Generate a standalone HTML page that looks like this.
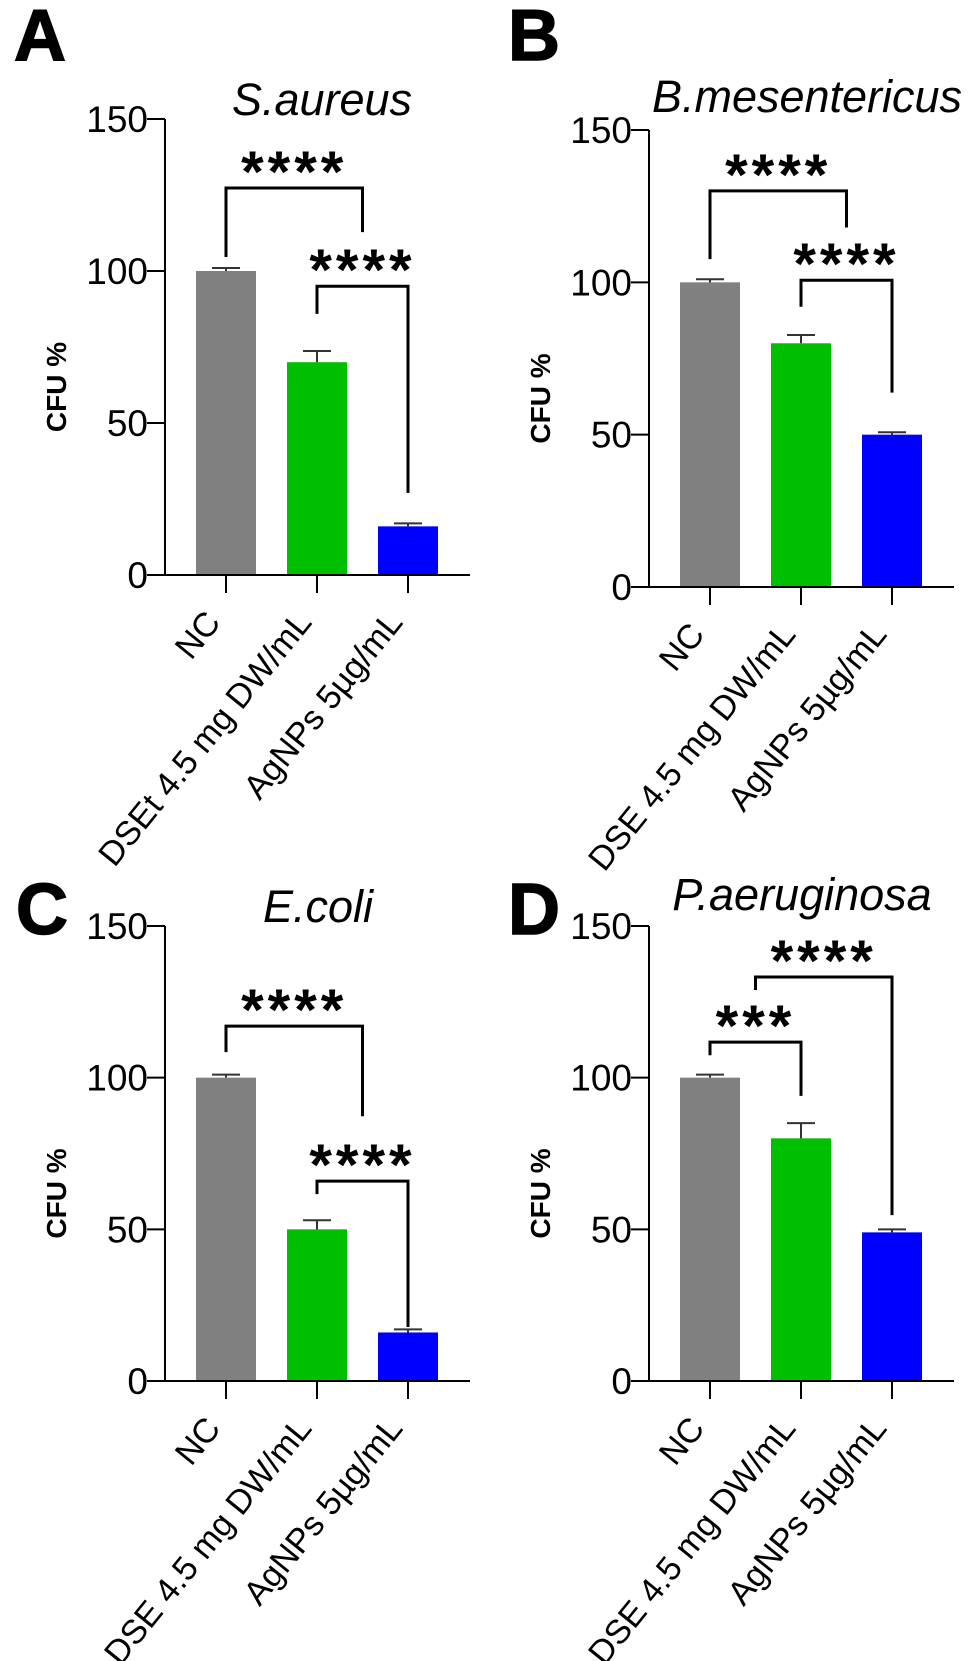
<!DOCTYPE html>
<html><head><meta charset="utf-8">
<style>
html,body{margin:0;padding:0;background:#fff;}
svg{display:block;font-family:"Liberation Sans",Arial,sans-serif;}
</style></head>
<body>
<svg id="fig" width="970" height="1661" viewBox="0 0 970 1661" xmlns="http://www.w3.org/2000/svg"></svg>
<script>
const categoriesA = ["NC", "DSEt 4.5 mg DW/mL", "AgNPs 5µg/mL"];
const categoriesB = ["NC", "DSE 4.5 mg DW/mL", "AgNPs 5µg/mL"];
const categoriesC = ["NC", "DSE 4.5 mg DW/mL", "AgNPs 5µg/mL"];
const categoriesD = ["NC", "DSE 4.5 mg DW/mL", "AgNPs 5µg/mL"];
const valuesA = [100, 70, 16];
const errorsA = [1, 3.7, 1];
const valuesB = [100, 80, 50];
const errorsB = [1, 2.7, 0.8];
const valuesC = [100, 50, 16];
const errorsC = [1, 3, 1];
const valuesD = [100, 80, 49];
const errorsD = [1, 5, 1];
const yTicks = [0, 50, 100, 150];
const yTickLabels = ["0", "50", "100", "150"];
// brackets: [fromCategory, toCategory, topValue, leftLegBottom, rightLegBottom, label]
const bracketsA = [[0, 1.5, 127.3, 104.6, 112.8, "****"], [1, 2, 95, 85.9, 27, "****"]];
const bracketsB = [[0, 1.5, 130, 107.6, 118, "****"], [1, 2, 100.7, 92, 63.8, "****"]];
const bracketsC = [[0, 1.5, 117, 108.4, 87.3, "****"], [1, 2, 65.9, 61.6, 17.8, "****"]];
const bracketsD = [[0, 1, 111.7, 107.4, 94, "***"], [0.5, 2, 133.2, 128.9, 54.7, "****"]];

const colors = ["#808080", "#00bf00", "#0000ff"];
const NS = "http://www.w3.org/2000/svg";
const svg = document.getElementById("fig");

function mk(tag, attrs, parent) {
  const e = document.createElementNS(NS, tag);
  for (const k in attrs) e.setAttribute(k, attrs[k]);
  (parent || svg).appendChild(e);
  return e;
}

const panels = [
  {id: "a", letter: "A", lx: 14, ly: 60, title: "S.aureus", tx: 322, ty: 115, ox: 165, base: 575, top: 119, cats: categoriesA, vals: valuesA, errs: errorsA, br: bracketsA},
  {id: "b", letter: "B", lx: 508, ly: 60, title: "B.mesentericus", tx: 807, ty: 112, ox: 649, base: 587, top: 130, cats: categoriesB, vals: valuesB, errs: errorsB, br: bracketsB},
  {id: "c", letter: "C", lx: 16, ly: 934, title: "E.coli", tx: 318, ty: 922, ox: 165, base: 1381, top: 926, cats: categoriesC, vals: valuesC, errs: errorsC, br: bracketsC},
  {id: "d", letter: "D", lx: 508, ly: 934, title: "P.aeruginosa", tx: 802, ty: 910, ox: 649, base: 1381, top: 926, cats: categoriesD, vals: valuesD, errs: errorsD, br: bracketsD}
];

panels.forEach(p => {
  const g = mk("g", {});
  
  
  const y = v => p.base - (p.base - p.top) * v / 150;
  const x = i => p.ox + 61 + 91 * i;

  const L = mk("text", {x: p.lx, y: p.ly, "font-size": 72, "font-weight": "bold", stroke: "#000", "stroke-width": 1.5}, g);
  L.textContent = p.letter;
  
  

  const T = mk("text", {x: p.tx, y: p.ty, "font-size": 45, "font-style": "italic", "text-anchor": "middle"}, g);
  T.textContent = p.title;
  
  

  p.vals.forEach((v, i) => {
    const r = mk("rect", {x: x(i) - 30, y: y(v), width: 60, height: p.base - y(v), fill: colors[i]}, g);
    
    
    const eTop = y(v + p.errs[i]);
    const e = mk("path", {d: `M${x(i)},${y(v)}V${eTop}M${x(i) - 14},${eTop}H${x(i) + 14}`, stroke: "#333", "stroke-width": 2, fill: "none"}, g);
    
    
  });

  const ya = mk("line", {x1: p.ox, y1: p.top, x2: p.ox, y2: p.base, stroke: "#000", "stroke-width": 2}, g);
  
  
  const xa = mk("line", {x1: p.ox - 18, y1: p.base, x2: p.ox + 305, y2: p.base, stroke: "#000", "stroke-width": 2}, g);
  
  

  yTicks.forEach((t, i) => {
    const tk = mk("line", {x1: p.ox - 18, y1: y(t), x2: p.ox, y2: y(t), stroke: "#000", "stroke-width": 2}, g);
    
    
    const tl = mk("text", {x: p.ox - 17, y: y(t) + 13, "font-size": 37, "text-anchor": "end"}, g);
    tl.textContent = yTickLabels[i];
    
    
  });

  const yl = mk("text", {x: 0, y: 0, "font-size": 28, "font-weight": "bold", "text-anchor": "middle", transform: `translate(${p.ox - 99},${(p.top + p.base) / 2 + 40}) rotate(-90)`}, g);
  yl.textContent = "CFU %";
  
  

  p.cats.forEach((c, i) => {
    const tk = mk("line", {x1: x(i), y1: p.base, x2: x(i), y2: p.base + 18, stroke: "#000", "stroke-width": 2}, g);
    
    
    const px = x(i) - 4, py = p.base + 48;
    const tl = mk("text", {x: 0, y: 0, "font-size": 34, "text-anchor": "end", transform: `translate(${px} ${py}) rotate(-51)`}, g);
    tl.textContent = c;
    
    
  });

  p.br.forEach(b => {
    const x1 = p.ox + 61 + 91 * b[0], x2 = p.ox + 61 + 91 * b[1];
    const bt = y(b[2]);
    const path = mk("path", {d: `M${x1},${y(b[3])}V${bt}H${x2}V${y(b[4])}`, stroke: "#000", "stroke-width": 3, fill: "none"}, g);
    
    
    const s = mk("text", {x: (x1 + x2) / 2, y: bt + 4, "font-size": 58, "font-weight": "bold", "text-anchor": "middle", "letter-spacing": 4}, g);
    s.textContent = b[5];
    
    
  });
});
</script>
</body></html>
